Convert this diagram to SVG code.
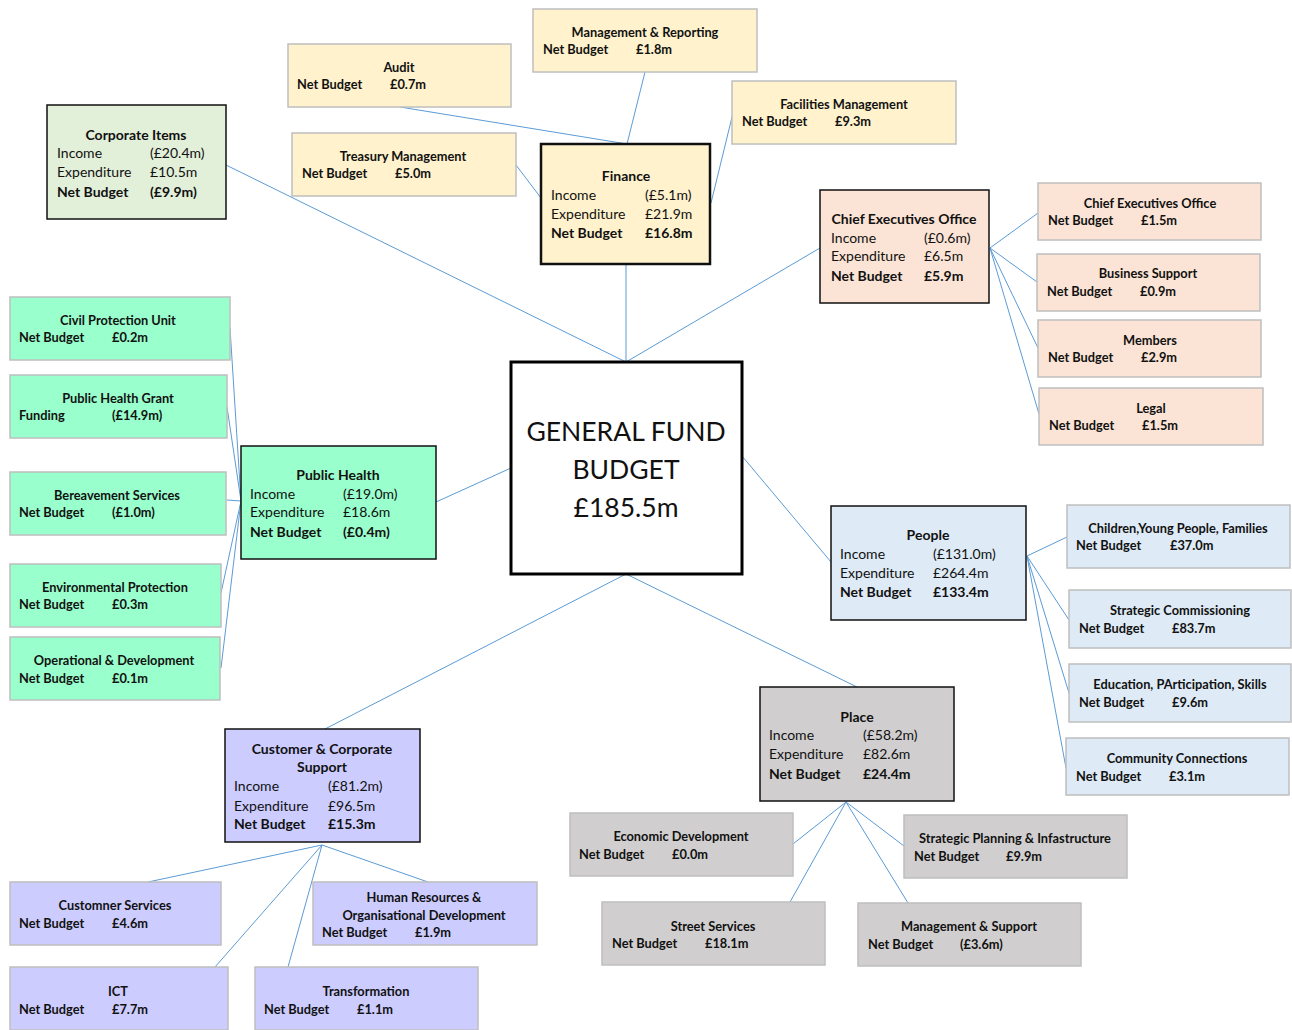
<svg xmlns="http://www.w3.org/2000/svg" width="1292" height="1030" viewBox="0 0 1292 1030">
<style>
text{font-family:Lato,"Open Sans","Liberation Sans",sans-serif;fill:#111;}
.m{font-size:14px;}
.b{font-weight:bold;}
.t{font-weight:bold;text-anchor:middle;}
.l{font-size:12.8px;font-weight:bold;}
.mb{stroke:#111;stroke-width:1.5;}
.lf{stroke:#bfbfbf;stroke-width:1.5;}
.c{stroke:#5b9bd5;stroke-width:1;fill:none;}
.fin{fill:#fff2cc;}.ceo{fill:#fbe4d5;}.ph{fill:#99ffcc;}.pp{fill:#deeaf6;}.cu{fill:#ccccff;}.pl{fill:#d0cece;}.ci{fill:#e2efd9;}
.big{font-size:26.5px;text-anchor:middle;}
</style>
<rect width="1292" height="1030" fill="#ffffff"/>
<g id="connectors">
<line class="c" x1="226" y1="165" x2="626" y2="362"/>
<line class="c" x1="626" y1="264" x2="626" y2="362"/>
<line class="c" x1="820" y1="248" x2="626" y2="362"/>
<line class="c" x1="436" y1="502" x2="511" y2="468"/>
<line class="c" x1="831" y1="562" x2="742" y2="456"/>
<line class="c" x1="325" y1="729" x2="626" y2="574"/>
<line class="c" x1="857" y1="687" x2="626" y2="574"/>
<line class="c" x1="400" y1="107" x2="627" y2="144"/>
<line class="c" x1="645" y1="72" x2="627" y2="144"/>
<line class="c" x1="733" y1="113" x2="711" y2="203"/>
<line class="c" x1="516" y1="165" x2="541" y2="198"/>
<line class="c" x1="990" y1="248" x2="1038" y2="213"/>
<line class="c" x1="990" y1="248" x2="1037" y2="282"/>
<line class="c" x1="990" y1="248" x2="1038" y2="348"/>
<line class="c" x1="990" y1="248" x2="1039" y2="414"/>
<line class="c" x1="230" y1="328" x2="241" y2="501"/>
<line class="c" x1="227" y1="407" x2="241" y2="501"/>
<line class="c" x1="227" y1="500" x2="241" y2="501"/>
<line class="c" x1="221" y1="593" x2="241" y2="501"/>
<line class="c" x1="221" y1="668" x2="241" y2="501"/>
<line class="c" x1="1027" y1="556" x2="1067" y2="537"/>
<line class="c" x1="1027" y1="556" x2="1069" y2="620"/>
<line class="c" x1="1027" y1="556" x2="1069" y2="693"/>
<line class="c" x1="1027" y1="556" x2="1066" y2="768"/>
<line class="c" x1="322" y1="845" x2="148" y2="882"/>
<line class="c" x1="322" y1="845" x2="428" y2="882"/>
<line class="c" x1="322" y1="845" x2="215" y2="967"/>
<line class="c" x1="322" y1="845" x2="288" y2="967"/>
<line class="c" x1="846" y1="802" x2="793" y2="844"/>
<line class="c" x1="846" y1="802" x2="904" y2="846"/>
<line class="c" x1="846" y1="802" x2="790" y2="902"/>
<line class="c" x1="846" y1="802" x2="908" y2="903"/>
</g>
<g id="general-fund">
<rect x="511" y="362" width="231" height="212" fill="#fff" stroke="#000" stroke-width="3"/>
<text class="big" x="626" y="441">GENERAL FUND</text>
<text class="big" x="626" y="479">BUDGET</text>
<text class="big" x="626" y="517">£185.5m</text>
</g>
<g id="corporate-items">
<rect class="ci mb" x="47" y="105" width="179" height="114"/>
<text class="m t" x="136" y="140">Corporate Items</text>
<text class="m" x="57" y="158">Income</text><text class="m" x="150" y="158">(£20.4m)</text>
<text class="m" x="57" y="177">Expenditure</text><text class="m" x="150" y="177">£10.5m</text>
<text class="m b" x="57" y="197">Net Budget</text><text class="m b" x="150" y="197">(£9.9m)</text>
</g>
<g id="finance">
<rect class="fin" x="541" y="144" width="169" height="120" stroke="#111" stroke-width="2.5"/>
<text class="m t" x="626" y="181">Finance</text>
<text class="m" x="551" y="200">Income</text><text class="m" x="645" y="200">(£5.1m)</text>
<text class="m" x="551" y="219">Expenditure</text><text class="m" x="645" y="219">£21.9m</text>
<text class="m b" x="551" y="238">Net Budget</text><text class="m b" x="645" y="238">£16.8m</text>
</g>
<g id="chief-executives-office">
<rect class="ceo mb" x="820" y="190" width="169" height="113"/>
<text class="m t" x="904" y="224">Chief Executives Office</text>
<text class="m" x="831" y="243">Income</text><text class="m" x="924" y="243">(£0.6m)</text>
<text class="m" x="831" y="261">Expenditure</text><text class="m" x="924" y="261">£6.5m</text>
<text class="m b" x="831" y="281">Net Budget</text><text class="m b" x="924" y="281">£5.9m</text>
</g>
<g id="public-health">
<rect class="ph mb" x="241" y="446" width="195" height="113"/>
<text class="m t" x="338" y="480">Public Health</text>
<text class="m" x="250" y="499">Income</text><text class="m" x="343" y="499">(£19.0m)</text>
<text class="m" x="250" y="517">Expenditure</text><text class="m" x="343" y="517">£18.6m</text>
<text class="m b" x="250" y="537">Net Budget</text><text class="m b" x="343" y="537">(£0.4m)</text>
</g>
<g id="people">
<rect class="pp mb" x="831" y="506" width="195" height="114"/>
<text class="m t" x="928" y="540">People</text>
<text class="m" x="840" y="559">Income</text><text class="m" x="933" y="559">(£131.0m)</text>
<text class="m" x="840" y="578">Expenditure</text><text class="m" x="933" y="578">£264.4m</text>
<text class="m b" x="840" y="597">Net Budget</text><text class="m b" x="933" y="597">£133.4m</text>
</g>
<g id="customer-corporate-support">
<rect class="cu mb" x="225" y="729" width="195" height="113"/>
<text class="m t" x="322" y="754">Customer &amp; Corporate</text>
<text class="m t" x="322" y="772">Support</text>
<text class="m" x="234" y="791">Income</text><text class="m" x="328" y="791">(£81.2m)</text>
<text class="m" x="234" y="811">Expenditure</text><text class="m" x="328" y="811">£96.5m</text>
<text class="m b" x="234" y="829">Net Budget</text><text class="m b" x="328" y="829">£15.3m</text>
</g>
<g id="place">
<rect class="pl mb" x="760" y="687" width="194" height="114"/>
<text class="m t" x="857" y="722">Place</text>
<text class="m" x="769" y="740">Income</text><text class="m" x="863" y="740">(£58.2m)</text>
<text class="m" x="769" y="759">Expenditure</text><text class="m" x="863" y="759">£82.6m</text>
<text class="m b" x="769" y="779">Net Budget</text><text class="m b" x="863" y="779">£24.4m</text>
</g>
<g id="audit">
<rect class="fin lf" x="288" y="44" width="223" height="63"/>
<text class="l t" x="399" y="72">Audit</text>
<text class="l" x="297" y="89">Net Budget</text><text class="l" x="390" y="89">£0.7m</text>
</g>
<g id="management-reporting">
<rect class="fin lf" x="533" y="9" width="224" height="63"/>
<text class="l t" x="645" y="37">Management &amp; Reporting</text>
<text class="l" x="543" y="54">Net Budget</text><text class="l" x="636" y="54">£1.8m</text>
</g>
<g id="facilities-management">
<rect class="fin lf" x="732" y="81" width="224" height="63"/>
<text class="l t" x="844" y="109">Facilities Management</text>
<text class="l" x="742" y="126">Net Budget</text><text class="l" x="835" y="126">£9.3m</text>
</g>
<g id="treasury-management">
<rect class="fin lf" x="292" y="133" width="224" height="63"/>
<text class="l t" x="403" y="161">Treasury Management</text>
<text class="l" x="302" y="178">Net Budget</text><text class="l" x="395" y="178">£5.0m</text>
</g>
<g id="ceo-office">
<rect class="ceo lf" x="1038" y="183" width="223" height="57"/>
<text class="l t" x="1150" y="208">Chief Executives Office</text>
<text class="l" x="1048" y="225">Net Budget</text><text class="l" x="1141" y="225">£1.5m</text>
</g>
<g id="business-support">
<rect class="ceo lf" x="1037" y="254" width="223" height="57"/>
<text class="l t" x="1148" y="278">Business Support</text>
<text class="l" x="1047" y="296">Net Budget</text><text class="l" x="1140" y="296">£0.9m</text>
</g>
<g id="members">
<rect class="ceo lf" x="1038" y="320" width="223" height="57"/>
<text class="l t" x="1150" y="345">Members</text>
<text class="l" x="1048" y="362">Net Budget</text><text class="l" x="1141" y="362">£2.9m</text>
</g>
<g id="legal">
<rect class="ceo lf" x="1039" y="388" width="224" height="57"/>
<text class="l t" x="1151" y="413">Legal</text>
<text class="l" x="1049" y="430">Net Budget</text><text class="l" x="1142" y="430">£1.5m</text>
</g>
<g id="civil-protection">
<rect class="ph lf" x="10" y="297" width="220" height="63"/>
<text class="l t" x="118" y="325">Civil Protection Unit</text>
<text class="l" x="19" y="342">Net Budget</text><text class="l" x="112" y="342">£0.2m</text>
</g>
<g id="public-health-grant">
<rect class="ph lf" x="10" y="375" width="217" height="63"/>
<text class="l t" x="118" y="403">Public Health Grant</text>
<text class="l" x="19" y="420">Funding</text><text class="l" x="112" y="420">(£14.9m)</text>
</g>
<g id="bereavement">
<rect class="ph lf" x="10" y="472" width="216" height="63"/>
<text class="l t" x="117" y="500">Bereavement Services</text>
<text class="l" x="19" y="517">Net Budget</text><text class="l" x="112" y="517">(£1.0m)</text>
</g>
<g id="environmental">
<rect class="ph lf" x="10" y="564" width="211" height="63"/>
<text class="l t" x="115" y="592">Environmental Protection</text>
<text class="l" x="19" y="609">Net Budget</text><text class="l" x="112" y="609">£0.3m</text>
</g>
<g id="operational">
<rect class="ph lf" x="10" y="637" width="210" height="63"/>
<text class="l t" x="114" y="665">Operational &amp; Development</text>
<text class="l" x="19" y="683">Net Budget</text><text class="l" x="112" y="683">£0.1m</text>
</g>
<g id="children">
<rect class="pp lf" x="1067" y="505" width="223" height="63"/>
<text class="l t" x="1178" y="533">Children,Young People, Families</text>
<text class="l" x="1076" y="550">Net Budget</text><text class="l" x="1170" y="550">£37.0m</text>
</g>
<g id="strategic-commissioning">
<rect class="pp lf" x="1069" y="590" width="222" height="58"/>
<text class="l t" x="1180" y="615">Strategic Commissioning</text>
<text class="l" x="1079" y="633">Net Budget</text><text class="l" x="1172" y="633">£83.7m</text>
</g>
<g id="education">
<rect class="pp lf" x="1069" y="664" width="222" height="58"/>
<text class="l t" x="1180" y="689">Education, PArticipation, Skills</text>
<text class="l" x="1079" y="707">Net Budget</text><text class="l" x="1172" y="707">£9.6m</text>
</g>
<g id="community">
<rect class="pp lf" x="1066" y="738" width="223" height="57"/>
<text class="l t" x="1177" y="763">Community Connections</text>
<text class="l" x="1076" y="781">Net Budget</text><text class="l" x="1169" y="781">£3.1m</text>
</g>
<g id="customner-services">
<rect class="cu lf" x="10" y="882" width="211" height="63"/>
<text class="l t" x="115" y="910">Customner Services</text>
<text class="l" x="19" y="928">Net Budget</text><text class="l" x="112" y="928">£4.6m</text>
</g>
<g id="human-resources">
<rect class="cu lf" x="313" y="882" width="224" height="63"/>
<text class="l t" x="424" y="902">Human Resources &amp;</text>
<text class="l t" x="424" y="920">Organisational Development</text>
<text class="l" x="322" y="937">Net Budget</text><text class="l" x="415" y="937">£1.9m</text>
</g>
<g id="ict">
<rect class="cu lf" x="10" y="967" width="218" height="63"/>
<text class="l t" x="118" y="996">ICT</text>
<text class="l" x="19" y="1014">Net Budget</text><text class="l" x="112" y="1014">£7.7m</text>
</g>
<g id="transformation">
<rect class="cu lf" x="255" y="967" width="223" height="63"/>
<text class="l t" x="366" y="996">Transformation</text>
<text class="l" x="264" y="1014">Net Budget</text><text class="l" x="357" y="1014">£1.1m</text>
</g>
<g id="economic-development">
<rect class="pl lf" x="570" y="813" width="223" height="63"/>
<text class="l t" x="681" y="841">Economic Development</text>
<text class="l" x="579" y="859">Net Budget</text><text class="l" x="672" y="859">£0.0m</text>
</g>
<g id="strategic-planning">
<rect class="pl lf" x="904" y="815" width="223" height="63"/>
<text class="l t" x="1015" y="843">Strategic Planning &amp; Infastructure</text>
<text class="l" x="914" y="861">Net Budget</text><text class="l" x="1006" y="861">£9.9m</text>
</g>
<g id="street-services">
<rect class="pl lf" x="602" y="902" width="223" height="63"/>
<text class="l t" x="713" y="931">Street Services</text>
<text class="l" x="612" y="948">Net Budget</text><text class="l" x="705" y="948">£18.1m</text>
</g>
<g id="management-support">
<rect class="pl lf" x="858" y="903" width="223" height="63"/>
<text class="l t" x="969" y="931">Management &amp; Support</text>
<text class="l" x="868" y="949">Net Budget</text><text class="l" x="960" y="949">(£3.6m)</text>
</g>
</svg>
